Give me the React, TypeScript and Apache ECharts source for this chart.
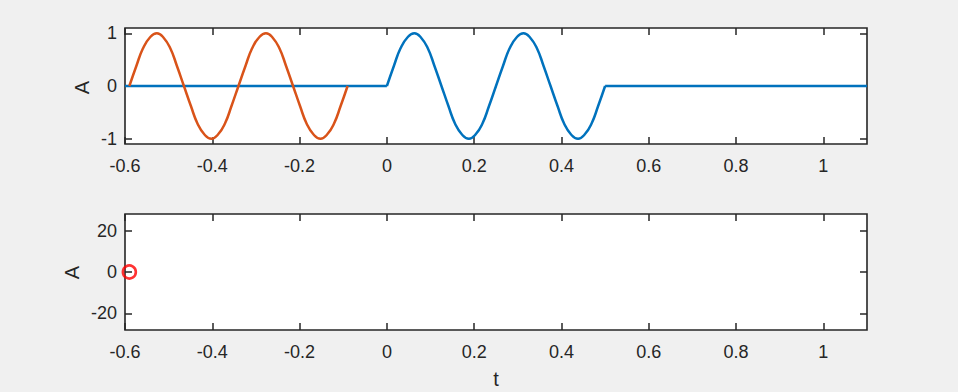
import React, { useEffect, useRef } from "react";
import * as echarts from "echarts";

// x-axis ticks (shared by both panels)
const xTicks = [-0.6, -0.4, -0.2, 0, 0.2, 0.4, 0.6, 0.8, 1];
const yTicksTop = [-1, 0, 1];
const yTicksBottom = [-20, 0, 20];

// burst shape (two periods of a tone), shared by both curves
const burstA = [
  0, 0.38, 0.71, 0.92, 1, 0.92, 0.71, 0.38, 0, -0.38, -0.71, -0.92, -1, -0.92, -0.71, -0.38,
  0, 0.38, 0.71, 0.92, 1, 0.92, 0.71, 0.38, 0, -0.38, -0.71, -0.92, -1, -0.92, -0.71, -0.38, 0,
];
// times of the blue burst
const blueT = [
  0, 0.016, 0.031, 0.047, 0.063, 0.078, 0.094, 0.109, 0.125, 0.141, 0.156, 0.172, 0.188, 0.203,
  0.219, 0.234, 0.25, 0.266, 0.281, 0.297, 0.313, 0.328, 0.344, 0.359, 0.375, 0.391, 0.406,
  0.422, 0.438, 0.453, 0.469, 0.484, 0.5,
];
// times of the orange (shifted) burst
const orangeT = [
  -0.59, -0.574, -0.559, -0.543, -0.527, -0.512, -0.496, -0.481, -0.465, -0.449, -0.434, -0.418,
  -0.402, -0.387, -0.371, -0.356, -0.34, -0.324, -0.309, -0.293, -0.277, -0.262, -0.246, -0.231,
  -0.215, -0.199, -0.184, -0.168, -0.152, -0.137, -0.121, -0.106, -0.09,
];
// flat zero parts of the blue signal
const blueFlatLeftT = [-0.6, 0];
const blueFlatRightT = [0.5, 1.1];
const flatA = [0, 0];
// marker in the lower panel
const markerT = [-0.59];
const markerA = [0];

const BLUE = "#0072BD";
const ORANGE = "#D95319";
const INK = "#262626";
const FONT = "'Liberation Sans', Arial, Helvetica, sans-serif";

const zip = (t: number[], a: number[]) => t.map((v, i) => [v, a[i]]);

export default function App() {
  const ref = useRef<HTMLDivElement>(null);
  useEffect(() => {
    if (!ref.current) return;
    const chart = echarts.init(ref.current, null, { renderer: "svg" });

    const fmt = (v: number) => String(Math.round(v * 1000) / 1000);

    const xAxisBase = (grid: number, pos: "bottom" | "top", showLabel: boolean) => ({
      type: "value",
      gridIndex: grid,
      position: pos,
      min: -0.6,
      max: 1.1,
      axisLine: { show: false, onZero: false },
      splitLine: { show: false },
      axisTick: {
        show: true,
        inside: true,
        length: 7,
        customValues: xTicks,
        lineStyle: { color: INK, width: 1.5 },
      },
      axisLabel: {
        show: showLabel,
        customValues: xTicks,
        margin: 13,
        color: INK,
        fontSize: 18,
        fontFamily: FONT,
        formatter: fmt,
      },
    });

    const yAxisBase = (
      grid: number,
      pos: "left" | "right",
      showLabel: boolean,
      min: number,
      max: number,
      ticks: number[]
    ) => ({
      type: "value",
      gridIndex: grid,
      position: pos,
      min,
      max,
      axisLine: { show: false, onZero: false },
      splitLine: { show: false },
      axisTick: {
        show: true,
        inside: true,
        length: 7,
        customValues: ticks,
        lineStyle: { color: INK, width: 1.5 },
      },
      axisLabel: {
        show: showLabel,
        customValues: ticks,
        margin: 8,
        color: INK,
        fontSize: 18,
        fontFamily: FONT,
        formatter: fmt,
      },
    });

    const gridBase = {
      show: true,
      backgroundColor: "#ffffff",
      borderColor: INK,
      borderWidth: 1.6,
      left: 125,
      width: 742,
      height: 116,
    };

    const labelStyle = (text: string) => ({
      text,
      fill: INK,
      fontSize: 20,
      fontFamily: FONT,
      align: "center",
      verticalAlign: "middle",
    });

    chart.setOption({
      animation: false,
      backgroundColor: "#f0f0f0",
      grid: [
        { ...gridBase, top: 28 },
        { ...gridBase, top: 214 },
      ],
      xAxis: [
        xAxisBase(0, "bottom", true),
        xAxisBase(0, "top", false),
        xAxisBase(1, "bottom", true),
        xAxisBase(1, "top", false),
      ],
      yAxis: [
        yAxisBase(0, "left", true, -1.1, 1.1, yTicksTop),
        yAxisBase(0, "right", false, -1.1, 1.1, yTicksTop),
        yAxisBase(1, "left", true, -28, 28, yTicksBottom),
        yAxisBase(1, "right", false, -28, 28, yTicksBottom),
      ],
      graphic: [
        { type: "text", x: 82, y: 87.5, rotation: Math.PI / 2, style: labelStyle("A") },
        { type: "text", x: 71.5, y: 272.5, rotation: Math.PI / 2, style: labelStyle("A") },
        { type: "text", x: 496, y: 379, style: labelStyle("t") },
      ],
      series: [
        {
          type: "line",
          xAxisIndex: 0,
          yAxisIndex: 0,
          data: zip(blueFlatLeftT, flatA),
          showSymbol: false,
          lineStyle: { color: BLUE, width: 2.5 },
        },
        {
          type: "line",
          xAxisIndex: 0,
          yAxisIndex: 0,
          data: zip(blueT, burstA),
          smooth: 0.5,
          showSymbol: false,
          lineStyle: { color: BLUE, width: 2.5 },
        },
        {
          type: "line",
          xAxisIndex: 0,
          yAxisIndex: 0,
          data: zip(blueFlatRightT, flatA),
          showSymbol: false,
          lineStyle: { color: BLUE, width: 2.5 },
        },
        {
          type: "line",
          xAxisIndex: 0,
          yAxisIndex: 0,
          data: zip(orangeT, burstA),
          smooth: 0.5,
          showSymbol: false,
          lineStyle: { color: ORANGE, width: 2.5 },
        },
        {
          type: "scatter",
          xAxisIndex: 2,
          yAxisIndex: 2,
          data: zip(markerT, markerA),
          symbol: "circle",
          symbolSize: 13,
          itemStyle: { color: "none", borderColor: "#ff0000", borderWidth: 2.6 },
        },
      ],
    });

    return () => chart.dispose();
  }, []);

  return (
    <div
      ref={ref}
      style={{ position: "fixed", left: 0, top: 0, width: 958, height: 392 }}
    />
  );
}
